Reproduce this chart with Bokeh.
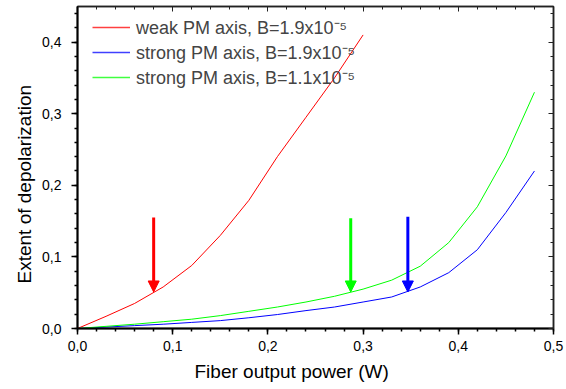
from bokeh.plotting import figure
from bokeh.models import (Range1d, SingleIntervalTicker, LinearAxis, CustomJSTickFormatter,
                          Arrow, NormalHead, Title, Legend, LegendItem)
from bokeh.embed import file_html
from bokeh.resources import INLINE

# ---- data ----
red_x = [0, 0.03, 0.06, 0.09, 0.12, 0.15, 0.18, 0.21, 0.24, 0.27, 0.30]
red_y = [0, 0.017, 0.035, 0.058, 0.088, 0.130, 0.179, 0.240, 0.295, 0.350, 0.410]

pm_x = [0, 0.03, 0.06, 0.09, 0.12, 0.15, 0.18, 0.21, 0.24, 0.27, 0.30, 0.33, 0.36, 0.39, 0.42, 0.45, 0.48]
blue_y = [0, 0.002, 0.004, 0.006, 0.0085, 0.011, 0.015, 0.0195, 0.025, 0.030, 0.037, 0.044,
          0.058, 0.078, 0.110, 0.162, 0.220]
green_y = [0, 0.003, 0.006, 0.0095, 0.013, 0.018, 0.024, 0.030, 0.037, 0.045, 0.055, 0.0675,
           0.087, 0.120, 0.170, 0.241, 0.330]

series_labels = ["weak PM axis, B=1.9x10\u207b\u2075",
                 "strong PM axis, B=1.9x10\u207b\u2075",
                 "strong PM axis, B=1.1x10\u207b\u2075"]
series_colors = ["#ff0000", "#0000ff", "#00ff00"]

arrow_x = [0.08, 0.287, 0.347]
arrow_top = [0.155, 0.154, 0.156]
arrow_tip = [0.051, 0.051, 0.051]
arrow_colors = ["#ff0000", "#00ff00", "#0000ff"]

x_title = "Fiber output power (W)"
y_title = "Extent of depolarization"

FONT = "Liberation Sans"
NAN = float("nan")

p = figure(width=566, height=389, output_backend="svg", toolbar_location=None,
           x_range=Range1d(0, 0.5), y_range=Range1d(0, 0.4497),
           min_border_left=77, min_border_right=13, min_border_top=6, min_border_bottom=61)
p.xgrid.visible = False
p.ygrid.visible = False
p.outline_line_color = "#222222"
p.outline_line_width = 1.5

fmt = CustomJSTickFormatter(code="return tick.toFixed(1).replace('.', ',');")

for ax in p.xaxis:
    ax.ticker = SingleIntervalTicker(interval=0.1, num_minor_ticks=5)
for ax in p.yaxis:
    ax.ticker = SingleIntervalTicker(interval=0.1, num_minor_ticks=5)

for ax in list(p.xaxis) + list(p.yaxis):
    ax.formatter = fmt
    ax.major_label_text_font = FONT
    ax.major_label_text_font_size = "14px"
    ax.major_label_text_color = "black"
    ax.axis_line_width = 2
    ax.axis_line_color = "black"
    ax.major_tick_line_width = 1.5
    ax.minor_tick_line_width = 1.5
    ax.major_tick_in = 0
    ax.minor_tick_in = 0
    ax.major_tick_out = 6
    ax.minor_tick_out = 3
p.xaxis.major_label_standoff = 6
p.yaxis.major_label_standoff = 10


def mirror_axis():
    return LinearAxis(ticker=SingleIntervalTicker(interval=0.1, num_minor_ticks=5),
                      major_label_text_color=None, major_label_text_font_size="0px",
                      major_tick_in=5, major_tick_out=0, minor_tick_in=3, minor_tick_out=0,
                      axis_line_color="#222222", axis_line_width=1.5,
                      major_tick_line_color="#222222", minor_tick_line_color="#222222")


p.add_layout(mirror_axis(), "above")
p.add_layout(mirror_axis(), "right")

series_x = [red_x, pm_x, pm_x]
series_y = [red_y, blue_y, green_y]
items = []
for xs, ys, c, lab in zip(series_x, series_y, series_colors, series_labels):
    p.line(xs, ys, line_color=c, line_width=1)
    # legend-only swatch renderer (draws nothing in the plot)
    sw = p.line([NAN, NAN], [NAN, NAN], line_color=c, line_width=1.6, line_alpha=0.75)
    items.append(LegendItem(label=lab, renderers=[sw]))

for xa, yt, yb, c in zip(arrow_x, arrow_top, arrow_tip, arrow_colors):
    p.add_layout(Arrow(end=NormalHead(size=11, fill_color=c, line_color=c, line_width=1),
                       x_start=xa, y_start=yt, x_end=xa, y_end=yb,
                       line_color=c, line_width=3))

lg = Legend(items=items, location=(15, 239), margin=0, padding=0, spacing=1,
            glyph_width=38, glyph_height=20, label_height=20, label_standoff=6,
            label_text_font=FONT, label_text_font_size="18px",
            border_line_color=None, background_fill_color=None)
p.add_layout(lg, "center")

p.add_layout(Title(text=x_title, align="left", offset=117, text_font=FONT,
                   text_font_size="19px", text_font_style="normal", text_color="black"),
             "below")
p.add_layout(Title(text=y_title, align="left", offset=45, text_font=FONT,
                   text_font_size="19px", text_font_style="normal", text_color="black"),
             "left")

open("out.html", "w").write(file_html(p, INLINE))
